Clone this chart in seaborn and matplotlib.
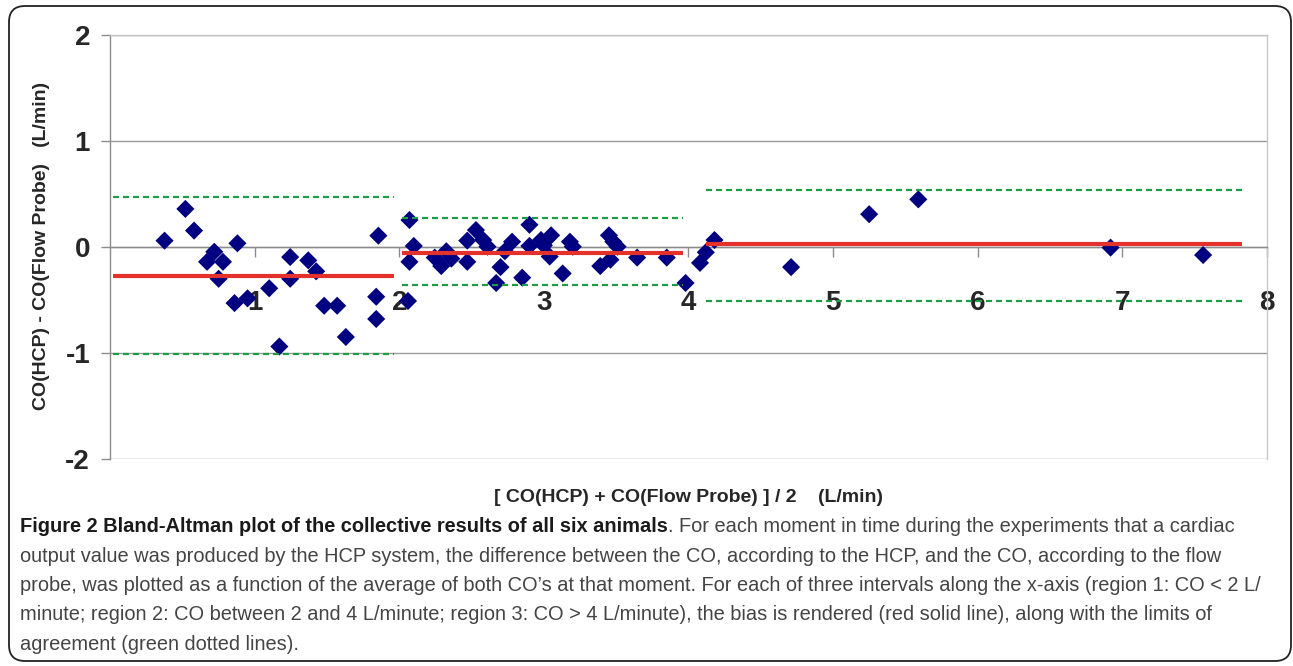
import numpy as np
import pandas as pd
import seaborn as sns
import matplotlib
matplotlib.use("Agg")
import matplotlib.pyplot as plt
from matplotlib.patches import FancyBboxPatch
from matplotlib import font_manager as fm

# ---------------- data ----------------
avg_co = [0.376, 0.52, 0.58, 0.72, 0.67, 0.78, 0.75, 0.88, 0.86, 0.95, 1.10, 1.17,
          1.245, 1.245, 1.37, 1.425, 1.48, 1.57, 1.63, 1.855, 1.84, 1.84,
          2.06, 2.07, 2.10, 2.07, 2.245, 2.29, 2.325, 2.36, 2.47, 2.53, 2.47, 2.58,
          2.61, 2.67, 2.70, 2.73, 2.78, 2.85, 2.90, 2.90, 2.98, 3.00, 3.05, 3.04,
          3.13, 3.18, 3.20, 3.39, 3.45, 3.48, 3.51, 3.46, 3.645, 3.85, 3.98,
          4.08, 4.12, 4.18, 4.71, 5.25, 5.59, 6.92, 7.56]
diff_co = [0.06, 0.36, 0.155, -0.045, -0.14, -0.14, -0.30, 0.035, -0.53, -0.485, -0.39, -0.94,
           -0.095, -0.30, -0.126, -0.23, -0.555, -0.555, -0.85, 0.107, -0.47, -0.68,
           -0.51, 0.255, 0.01, -0.14, -0.10, -0.18, -0.04, -0.11, 0.06, 0.16, -0.14, 0.066,
           0.003, -0.34, -0.19, -0.04, 0.05, -0.29, 0.21, 0.01, 0.066, 0.016, 0.11, -0.09,
           -0.25, 0.05, 0.003, -0.18, 0.11, 0.05, 0.003, -0.12, -0.10, -0.10, -0.34,
           -0.15, -0.05, 0.066, -0.19, 0.31, 0.45, -0.006, -0.076]

region_start = [0.02, 2.02, 4.12]
region_end = [1.96, 3.96, 7.83]
bias = [-0.277, -0.053, 0.032]
loa_upper = [0.47, 0.27, 0.537]
loa_lower = [-1.015, -0.355, -0.507]

x_ticks = [1, 2, 3, 4, 5, 6, 7, 8]
y_ticks = [-2, -1, 0, 1, 2]

y_label = "CO(HCP) - CO(Flow Probe)   (L/min)"
x_label = "[ CO(HCP) + CO(Flow Probe) ] / 2    (L/min)"

caption_bold = "Figure 2 Bland-Altman plot of the collective results of all six animals"
caption_lines = [
    ". For each moment in time during the experiments that a cardiac",
    "output value was produced by the HCP system, the difference between the CO, according to the HCP, and the CO, according to the flow",
    "probe, was plotted as a function of the average of both CO\u2019s at that moment. For each of three intervals along the x-axis (region 1: CO < 2 L/",
    "minute; region 2: CO between 2 and 4 L/minute; region 3: CO > 4 L/minute), the bias is rendered (red solid line), along with the limits of",
    "agreement (green dotted lines).",
]

# ---------------- style ----------------
sns.set_style("white")
plt.rcParams["font.family"] = ["Liberation Sans", "DejaVu Sans"]
names = {f.name for f in fm.fontManager.ttflist}
cap_family = "Liberation Sans Narrow" if "Liberation Sans Narrow" in names else "Liberation Sans"

W, H = 1293, 666
fig = plt.figure(figsize=(W / 100, H / 100), dpi=100)

# background decoration axes (rounded frame)
bg = fig.add_axes([0, 0, 1, 1], zorder=-1)
bg.set_xlim(0, W)
bg.set_ylim(H, 0)
bg.axis("off")
bg.add_patch(FancyBboxPatch((9, 6), 1282, 655, boxstyle="round,pad=0,rounding_size=16",
                            fc="none", ec="#222222", lw=1.3))

x0, x1, yt, yb = 110.2, 1266.7, 35.3, 458.7
ax = fig.add_axes([x0 / W, 1 - yb / H, (x1 - x0) / W, (yb - yt) / H])
ax.set_facecolor("none")

df = pd.DataFrame({"avg": avg_co, "diff": diff_co})
sns.scatterplot(data=df, x="avg", y="diff", marker="D", s=85, color="#000080",
                edgecolor="none", linewidth=0, ax=ax, zorder=3)

for xs, xe, b, lu, ll in zip(region_start, region_end, bias, loa_upper, loa_lower):
    ax.plot([xs, xe], [b, b], color="#e3312b", lw=3.0, solid_capstyle="butt", zorder=4)
    ax.plot([xs, xe], [lu, lu], color="#1d9e45", lw=1.6, ls=(0, (2.7, 1.8)), zorder=4)
    ax.plot([xs, xe], [ll, ll], color="#1d9e45", lw=1.6, ls=(0, (2.7, 1.8)), zorder=4)

ax.set_xlim(0, 8)
ax.set_ylim(-2, 2)
ax.spines["bottom"].set_position(("data", 0))
for s in ["left", "bottom"]:
    ax.spines[s].set_color("#8c8c8c")
    ax.spines[s].set_linewidth(1.0)
ax.spines["top"].set_color("#c4c4c4")
ax.spines["right"].set_color("#c8c8c8")
ax.spines["top"].set_linewidth(1.0)
ax.spines["right"].set_linewidth(1.0)

ax.set_xticks(x_ticks)
ax.set_xticklabels([str(t) for t in x_ticks], fontsize=20, fontweight="bold")
ax.set_yticks(y_ticks)
ax.set_yticklabels([str(t) for t in y_ticks], fontsize=20, fontweight="bold")
ax.tick_params(axis="x", direction="out", length=7, width=1, color="#8c8c8c", pad=24, bottom=True)
ax.tick_params(axis="y", direction="out", length=6.5, width=1, color="#8c8c8c", pad=8, left=True)
ax.yaxis.grid(True, color="#9a9a9a", lw=1.0)
ax.xaxis.grid(False)
ax.set_axisbelow(True)

ax.set_xlabel(x_label, fontsize=14, fontweight="bold")
ax.set_ylabel(y_label, fontsize=14, fontweight="bold")
ax.xaxis.set_label_coords((688 - x0) / (x1 - x0), (yb - 497) / (yb - yt))
ax.yaxis.set_label_coords((42 - x0) / (x1 - x0), (yb - 246) / (yb - yt))
ax.xaxis.label.set_va("center")
ax.yaxis.label.set_va("center")
ax.yaxis.label.set_ha("center")

# ---------------- caption ----------------
renderer = fig.canvas.get_renderer()
probe = fig.text(0, 0, caption_lines[1], fontsize=13, family=cap_family)
wpx = probe.get_window_extent(renderer).width
probe.remove()
cap_size = 13 * (1198 / wpx)

line_y = [526, 556, 585.5, 615, 644]
xl = 20
tb = fig.text(xl / W, 1 - line_y[0] / H, caption_bold, fontsize=cap_size, family=cap_family,
              fontweight="bold", color="#1a1a1a", va="center", ha="left")
bb = tb.get_window_extent(renderer)
fig.text(bb.x1 / W, 1 - line_y[0] / H, caption_lines[0], fontsize=cap_size, family=cap_family,
         color="#444444", va="center", ha="left")
for ln, yy in zip(caption_lines[1:], line_y[1:]):
    fig.text(xl / W, 1 - yy / H, ln, fontsize=cap_size, family=cap_family,
             color="#444444", va="center", ha="left")

fig.savefig("out.png", dpi=100, facecolor="white")
